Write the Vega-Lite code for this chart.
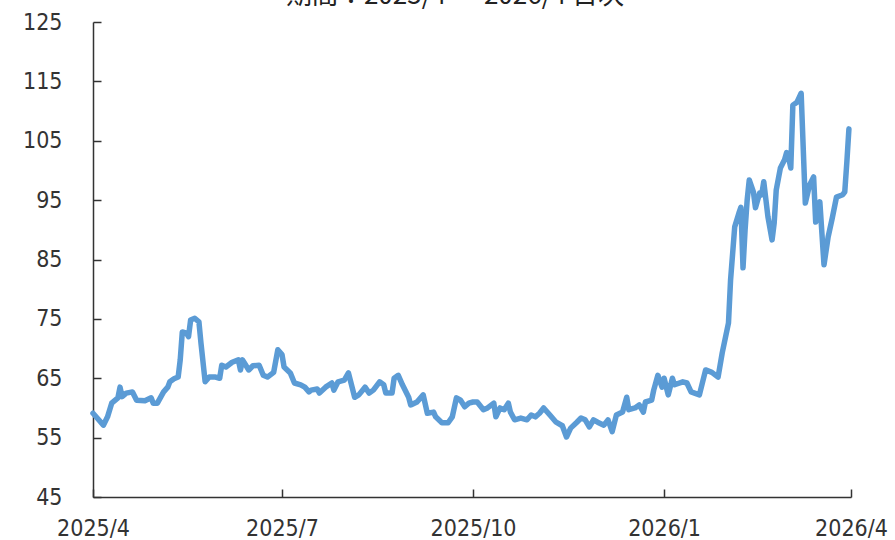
{
  "$schema": "https://vega.github.io/schema/vega-lite/v6.json",
  "width": 758,
  "height": 475,
  "autosize": "none",
  "padding": {"left": 93, "top": 22, "right": 44, "bottom": 43},
  "background": "white",
  "title": {
    "text": "期間：2025/4 ～ 2026/4 日次",
    "font": "Noto Sans CJK JP",
    "fontSize": 26,
    "fontWeight": "normal",
    "color": "#222222",
    "anchor": "middle",
    "baseline": "alphabetic",
    "offset": 2,
    "dy": 21,
    "dx": -17
  },
  "config": {
    "view": {"stroke": null},
    "axis": {
      "labelFont": "DejaVu Sans Condensed",
      "labelFontSize": 23,
      "labelColor": "#333333",
      "domainColor": "#333333",
      "domainWidth": 1.5,
      "tickColor": "#333333",
      "tickWidth": 1.5,
      "grid": false,
      "title": null
    }
  },
  "data": {
    "values": [
      {"date": "2025-04-01", "value": 59.1},
      {"date": "2025-04-03", "value": 58.3},
      {"date": "2025-04-06", "value": 57.1},
      {"date": "2025-04-08", "value": 58.5},
      {"date": "2025-04-10", "value": 60.8},
      {"date": "2025-04-13", "value": 61.7},
      {"date": "2025-04-14", "value": 63.5},
      {"date": "2025-04-15", "value": 61.9},
      {"date": "2025-04-17", "value": 62.5},
      {"date": "2025-04-20", "value": 62.7},
      {"date": "2025-04-22", "value": 61.3},
      {"date": "2025-04-26", "value": 61.2},
      {"date": "2025-04-29", "value": 61.7},
      {"date": "2025-04-30", "value": 60.8},
      {"date": "2025-05-02", "value": 60.8},
      {"date": "2025-05-05", "value": 62.7},
      {"date": "2025-05-07", "value": 63.5},
      {"date": "2025-05-08", "value": 64.4},
      {"date": "2025-05-10", "value": 64.9},
      {"date": "2025-05-12", "value": 65.2},
      {"date": "2025-05-13", "value": 68.1},
      {"date": "2025-05-14", "value": 72.8},
      {"date": "2025-05-16", "value": 72.6},
      {"date": "2025-05-17", "value": 72.0},
      {"date": "2025-05-18", "value": 74.8},
      {"date": "2025-05-20", "value": 75.1},
      {"date": "2025-05-22", "value": 74.5},
      {"date": "2025-05-23", "value": 70.9},
      {"date": "2025-05-25", "value": 64.4},
      {"date": "2025-05-27", "value": 65.2},
      {"date": "2025-05-30", "value": 65.2},
      {"date": "2025-06-01", "value": 65.0},
      {"date": "2025-06-02", "value": 67.2},
      {"date": "2025-06-04", "value": 66.9},
      {"date": "2025-06-07", "value": 67.7},
      {"date": "2025-06-10", "value": 68.1},
      {"date": "2025-06-11", "value": 66.4},
      {"date": "2025-06-12", "value": 68.1},
      {"date": "2025-06-15", "value": 66.4},
      {"date": "2025-06-17", "value": 67.1},
      {"date": "2025-06-20", "value": 67.2},
      {"date": "2025-06-22", "value": 65.5},
      {"date": "2025-06-24", "value": 65.2},
      {"date": "2025-06-27", "value": 66.0},
      {"date": "2025-06-29", "value": 69.8},
      {"date": "2025-07-01", "value": 69.0},
      {"date": "2025-07-02", "value": 66.9},
      {"date": "2025-07-05", "value": 65.9},
      {"date": "2025-07-07", "value": 64.2},
      {"date": "2025-07-10", "value": 63.9},
      {"date": "2025-07-12", "value": 63.5},
      {"date": "2025-07-14", "value": 62.7},
      {"date": "2025-07-15", "value": 63.0},
      {"date": "2025-07-18", "value": 63.2},
      {"date": "2025-07-19", "value": 62.5},
      {"date": "2025-07-22", "value": 63.5},
      {"date": "2025-07-25", "value": 64.2},
      {"date": "2025-07-26", "value": 63.0},
      {"date": "2025-07-28", "value": 64.4},
      {"date": "2025-07-31", "value": 64.7},
      {"date": "2025-08-02", "value": 65.9},
      {"date": "2025-08-05", "value": 61.8},
      {"date": "2025-08-07", "value": 62.2},
      {"date": "2025-08-10", "value": 63.5},
      {"date": "2025-08-12", "value": 62.5},
      {"date": "2025-08-14", "value": 63.0},
      {"date": "2025-08-17", "value": 64.4},
      {"date": "2025-08-19", "value": 63.9},
      {"date": "2025-08-20", "value": 62.5},
      {"date": "2025-08-23", "value": 62.5},
      {"date": "2025-08-24", "value": 65.0},
      {"date": "2025-08-26", "value": 65.5},
      {"date": "2025-08-28", "value": 63.9},
      {"date": "2025-08-31", "value": 61.8},
      {"date": "2025-09-01", "value": 60.5},
      {"date": "2025-09-04", "value": 61.0},
      {"date": "2025-09-07", "value": 62.2},
      {"date": "2025-09-09", "value": 59.1},
      {"date": "2025-09-12", "value": 59.3},
      {"date": "2025-09-13", "value": 58.5},
      {"date": "2025-09-16", "value": 57.5},
      {"date": "2025-09-19", "value": 57.5},
      {"date": "2025-09-21", "value": 58.5},
      {"date": "2025-09-23", "value": 61.7},
      {"date": "2025-09-25", "value": 61.3},
      {"date": "2025-09-27", "value": 60.2},
      {"date": "2025-09-29", "value": 60.8},
      {"date": "2025-10-01", "value": 61.0},
      {"date": "2025-10-03", "value": 61.0},
      {"date": "2025-10-06", "value": 59.7},
      {"date": "2025-10-08", "value": 60.0},
      {"date": "2025-10-11", "value": 60.8},
      {"date": "2025-10-12", "value": 58.5},
      {"date": "2025-10-14", "value": 60.0},
      {"date": "2025-10-16", "value": 59.7},
      {"date": "2025-10-18", "value": 60.8},
      {"date": "2025-10-19", "value": 59.3},
      {"date": "2025-10-21", "value": 58.0},
      {"date": "2025-10-24", "value": 58.3},
      {"date": "2025-10-27", "value": 58.0},
      {"date": "2025-10-29", "value": 58.8},
      {"date": "2025-10-31", "value": 58.5},
      {"date": "2025-11-02", "value": 59.1},
      {"date": "2025-11-04", "value": 60.0},
      {"date": "2025-11-07", "value": 58.8},
      {"date": "2025-11-10", "value": 57.6},
      {"date": "2025-11-13", "value": 57.0},
      {"date": "2025-11-15", "value": 55.1},
      {"date": "2025-11-17", "value": 56.6},
      {"date": "2025-11-20", "value": 57.6},
      {"date": "2025-11-22", "value": 58.3},
      {"date": "2025-11-24", "value": 58.0},
      {"date": "2025-11-26", "value": 56.8},
      {"date": "2025-11-28", "value": 58.0},
      {"date": "2025-11-30", "value": 57.6},
      {"date": "2025-12-03", "value": 57.1},
      {"date": "2025-12-05", "value": 58.0},
      {"date": "2025-12-07", "value": 56.0},
      {"date": "2025-12-09", "value": 58.8},
      {"date": "2025-12-12", "value": 59.3},
      {"date": "2025-12-14", "value": 61.8},
      {"date": "2025-12-15", "value": 59.7},
      {"date": "2025-12-18", "value": 60.0},
      {"date": "2025-12-20", "value": 60.5},
      {"date": "2025-12-22", "value": 59.3},
      {"date": "2025-12-23", "value": 61.0},
      {"date": "2025-12-26", "value": 61.3},
      {"date": "2025-12-27", "value": 63.0},
      {"date": "2025-12-29", "value": 65.5},
      {"date": "2025-12-31", "value": 63.5},
      {"date": "2026-01-01", "value": 65.0},
      {"date": "2026-01-03", "value": 62.2},
      {"date": "2026-01-05", "value": 65.0},
      {"date": "2026-01-06", "value": 63.9},
      {"date": "2026-01-10", "value": 64.4},
      {"date": "2026-01-12", "value": 64.2},
      {"date": "2026-01-14", "value": 62.7},
      {"date": "2026-01-18", "value": 62.2},
      {"date": "2026-01-21", "value": 66.4},
      {"date": "2026-01-24", "value": 66.0},
      {"date": "2026-01-27", "value": 65.2},
      {"date": "2026-01-29", "value": 69.3},
      {"date": "2026-02-01", "value": 74.3},
      {"date": "2026-02-02", "value": 81.5},
      {"date": "2026-02-04", "value": 90.5},
      {"date": "2026-02-06", "value": 92.8},
      {"date": "2026-02-07", "value": 93.8},
      {"date": "2026-02-08", "value": 83.6},
      {"date": "2026-02-09", "value": 90.0},
      {"date": "2026-02-10", "value": 95.0},
      {"date": "2026-02-11", "value": 98.4},
      {"date": "2026-02-13", "value": 96.4},
      {"date": "2026-02-14", "value": 93.7},
      {"date": "2026-02-16", "value": 96.2},
      {"date": "2026-02-17", "value": 95.9},
      {"date": "2026-02-18", "value": 98.1},
      {"date": "2026-02-20", "value": 92.2},
      {"date": "2026-02-22", "value": 88.3},
      {"date": "2026-02-23", "value": 91.1},
      {"date": "2026-02-24", "value": 96.7},
      {"date": "2026-02-26", "value": 100.4},
      {"date": "2026-02-28", "value": 101.8},
      {"date": "2026-03-01", "value": 103.0},
      {"date": "2026-03-02", "value": 102.1},
      {"date": "2026-03-03", "value": 100.4},
      {"date": "2026-03-04", "value": 111.0},
      {"date": "2026-03-06", "value": 111.5},
      {"date": "2026-03-08", "value": 113.0},
      {"date": "2026-03-10", "value": 94.5},
      {"date": "2026-03-12", "value": 97.5},
      {"date": "2026-03-14", "value": 98.9},
      {"date": "2026-03-15", "value": 91.3},
      {"date": "2026-03-17", "value": 94.7},
      {"date": "2026-03-19", "value": 84.1},
      {"date": "2026-03-21", "value": 88.8},
      {"date": "2026-03-23", "value": 92.0},
      {"date": "2026-03-25", "value": 95.5},
      {"date": "2026-03-28", "value": 95.9},
      {"date": "2026-03-29", "value": 96.4},
      {"date": "2026-03-30", "value": 101.4},
      {"date": "2026-03-31", "value": 107.0}
    ]
  },
  "mark": {
    "type": "line",
    "color": "#5B9BD5",
    "strokeWidth": 5.5,
    "strokeJoin": "round",
    "strokeCap": "round"
  },
  "encoding": {
    "x": {
      "field": "date",
      "type": "temporal",
      "scale": {
        "type": "utc",
        "domain": [
          {"year": 2025, "month": 4, "date": 1, "utc": true},
          {"year": 2026, "month": 4, "date": 1, "utc": true}
        ]
      },
      "axis": {
        "values": [
          {"year": 2025, "month": 4, "date": 1, "utc": true},
          {"year": 2025, "month": 7, "date": 1, "utc": true},
          {"year": 2025, "month": 10, "date": 1, "utc": true},
          {"year": 2026, "month": 1, "date": 1, "utc": true},
          {"year": 2026, "month": 4, "date": 1, "utc": true}
        ],
        "format": "%Y/%-m",
        "tickSize": -8,
        "labelPadding": 28,
        "labelFlush": false,
        "labelOverlap": false
      }
    },
    "y": {
      "field": "value",
      "type": "quantitative",
      "scale": {"domain": [45, 125], "nice": false, "zero": false},
      "axis": {
        "values": [45, 55, 65, 75, 85, 95, 105, 115, 125],
        "tickSize": -8,
        "labelPadding": 39,
        "labelOverlap": false
      }
    }
  }
}
